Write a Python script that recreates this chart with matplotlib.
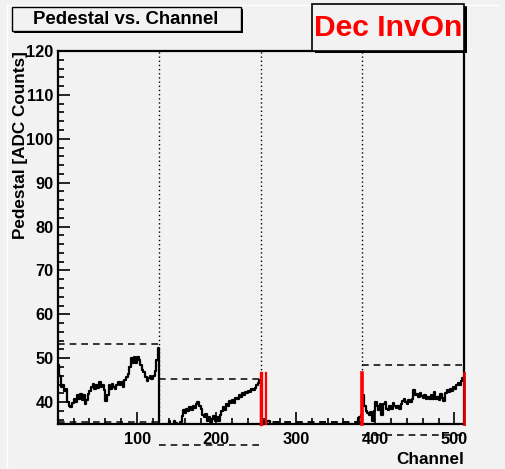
import matplotlib
matplotlib.use("Agg")
import matplotlib.pyplot as plt
from matplotlib.patches import Rectangle
from matplotlib.lines import Line2D
import numpy as np

plt.rcParams['font.family'] = ['Liberation Sans', 'DejaVu Sans']
plt.rcParams['font.weight'] = 'bold'
plt.rcParams['lines.scale_dashes'] = False

bg = '#f2f2f2'

# pedestal per 2-channel group, one list per 128-channel chip
chip1 = [48.5, 46.0, 43.5, 44.0, 42.5, 43.0, 40.0, 39.0, 38.8, 39.8, 40.8, 40.0,
         41.5, 40.8, 41.8, 40.5, 41.5, 39.5, 40.5, 41.8, 42.5, 43.5, 44.2, 43.0,
         44.0, 43.2, 44.5, 43.5, 43.8, 42.8, 40.2, 41.5, 43.8, 43.0, 44.2, 43.5,
         43.0, 44.0, 44.5, 43.8, 44.5, 43.5, 45.0, 45.8, 46.5, 48.0, 50.0, 49.0,
         50.2, 48.8, 50.2, 49.5, 48.5, 47.2, 46.8, 45.8, 44.8, 45.5, 46.0, 45.2,
         46.0, 47.0, 49.5, 52.3]
chip2 = [34.0, 34.0, 34.0, 34.0, 34.0, 34.5, 35.8, 34.5, 34.5, 35.6, 35.2, 34.5,
         34.5, 35.5, 36.8, 38.2, 37.5, 38.5, 38.0, 38.8, 38.3, 39.2, 38.6, 39.5,
         40.0, 39.2, 38.5, 37.0, 36.5, 37.2, 35.8, 36.6, 35.5, 36.2, 36.8, 35.6,
         36.5, 35.8, 37.0, 38.0, 38.8, 38.2, 39.5, 39.0, 40.3, 39.8, 40.5, 39.8,
         41.0, 40.6, 41.5, 41.2, 42.0, 41.5, 42.3, 42.0, 42.6, 42.3, 43.0, 42.8,
         43.3, 43.8, 44.3, 45.0]
chip3 = [34.5] * 2 + [35.8] * 4 + [34.5] * 54 + [35.5, 36.3, 36.5, 37.0]
chip4 = [41.5, 39.0, 38.0, 37.5, 37.0, 37.8, 35.8, 38.0, 40.0, 39.0, 38.2, 39.5,
         37.0, 39.5, 40.0, 38.5, 38.2, 39.0, 38.5, 39.8, 39.2, 38.7, 39.2, 38.5,
         39.5, 40.2, 40.8, 40.0, 39.6, 40.5, 40.0, 40.8, 42.8, 41.5, 41.8, 41.2,
         42.0, 41.3, 41.0, 41.6, 40.8, 41.2, 40.6, 41.5, 40.8, 42.3, 40.6, 41.2,
         40.5, 41.8, 41.0, 40.3, 42.0, 42.8, 42.2, 43.0, 42.5, 43.5, 43.0, 44.0,
         44.3, 43.8, 44.8, 45.5]

chip_edges = [0, 128, 256, 384, 512]
band_upper = [53.2, 45.2, 35.5, 48.4]
band_lower = [35.4, 30.2, 35.5, 32.5]
dead_channels = [256, 262, 383, 512]
dead_widths = [2.4, 1.6, 2.6, 2.0]
dead_level = 46.6

values = np.array(chip1 + chip2 + chip3 + chip4)
group = 2
x = np.arange(0, 512 + group, group)
y = np.append(values, values[-1])

fig = plt.figure(figsize=(5.05, 4.69), dpi=100)
fig.patch.set_facecolor(bg)
ax = fig.add_axes([0.1143, 0.0959, 0.9188 - 0.1143, 0.8913 - 0.0959])
ax.set_facecolor(bg)

ax.plot(x, y, drawstyle='steps-post', color='black', lw=1.6, zorder=3)

# chip boundaries
for e in chip_edges[1:-1]:
    ax.axvline(e, color='black', lw=1.0, ls=(0, (1.0, 2.0)), zorder=2)

# pedestal bands per chip
for i in range(4):
    for lvl in (band_upper[i], band_lower[i]):
        ax.plot([chip_edges[i], chip_edges[i + 1]], [lvl, lvl], color='black',
                lw=1.1, dashes=(4.8, 3.6), clip_on=False, zorder=2)

ax.set_xlim(0, 512)
ax.set_ylim(35, 120)

# dead channels
for c, w in zip(dead_channels, dead_widths):
    ax.plot([c, c], [35, dead_level], color='#ff0000' if c != 512 else '#dd0000',
            lw=w, clip_on=False, zorder=6)

for s in ax.spines.values():
    s.set_linewidth(1.6)

ax.set_xticks([100, 200, 300, 400, 500])
ax.set_xticks(np.arange(20, 512, 20), minor=True)
ax.set_yticks(np.arange(40, 121, 10))
ax.set_yticks(np.arange(36, 121, 2), minor=True)
ax.tick_params(which='both', direction='in', width=1.2, top=False, right=False,
               labelsize=11.8, pad=6)
ax.tick_params(which='major', length=8.5)
ax.tick_params(which='minor', length=4)
ax.tick_params(axis='y', pad=3)
for lab in ax.get_xticklabels() + ax.get_yticklabels():
    lab.set_fontweight('bold')

ax.set_xlabel('Channel', fontsize=12.3, fontweight='bold', loc='right', labelpad=3)
ax.set_ylabel('Pedestal [ADC Counts]', fontsize=12.3, fontweight='bold', loc='top')
ax.yaxis.set_label_coords(-0.072, 1.0)

# title box with shadow
fig.patches.append(Rectangle((14 / 505, 1 - 33 / 469), 229 / 505, 24 / 469,
                             transform=fig.transFigure, facecolor='black',
                             edgecolor='none', zorder=1))
fig.patches.append(Rectangle((12 / 505, 1 - 31 / 469), 229 / 505, 24 / 469,
                             transform=fig.transFigure, facecolor=bg,
                             edgecolor='black', lw=1.0, zorder=2))
fig.text(126 / 505, 1 - 19 / 469, 'Pedestal vs. Channel', ha='center', va='center',
         fontsize=13.4, fontweight='bold', zorder=3)

# label box
fig.patches.append(Rectangle((315 / 505, 1 - 53 / 469), 152 / 505, 47 / 469,
                             transform=fig.transFigure, facecolor='black',
                             edgecolor='none', zorder=1))
fig.patches.append(Rectangle((312 / 505, 1 - 51 / 469), 152 / 505, 47 / 469,
                             transform=fig.transFigure, facecolor=bg,
                             edgecolor='black', lw=1.2, zorder=2))
fig.text(388 / 505, 1 - 28 / 469, 'Dec InvOn', ha='center', va='center',
         fontsize=21.6, fontweight='bold', color='#ff0000', zorder=3)

# pad highlight
fig.lines.append(Line2D([7 / 505, 7 / 505], [0, 1 - 5 / 469], transform=fig.transFigure,
                        color='white', lw=1.0))
fig.lines.append(Line2D([7 / 505, 498 / 505], [1 - 5 / 469, 1 - 5 / 469],
                        transform=fig.transFigure, color='white', lw=1.0))

fig.savefig('out.png', dpi=100, facecolor=bg)
